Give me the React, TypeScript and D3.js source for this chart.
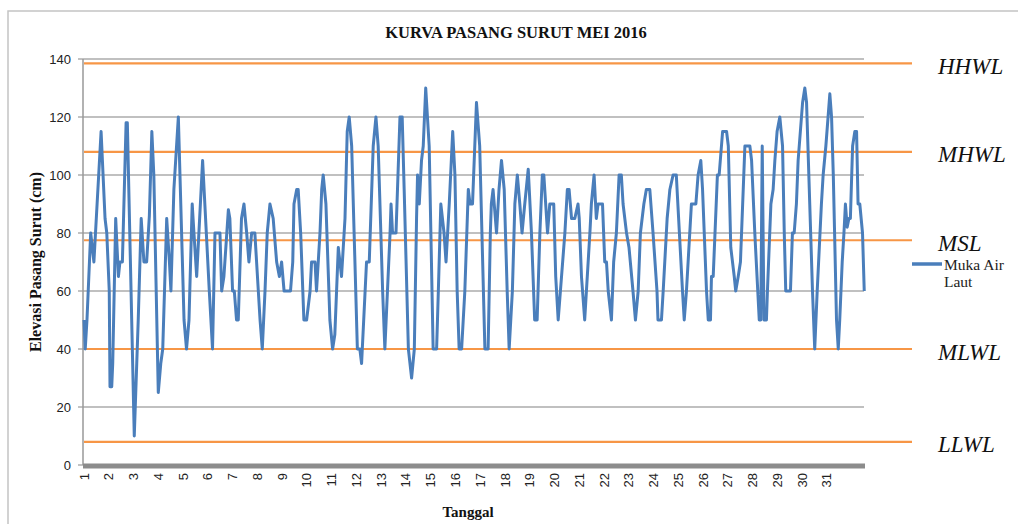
import React from 'react';
import * as d3 from 'd3';

const title = 'KURVA PASANG SURUT MEI 2016';
const yTitle = 'Elevasi Pasang Surut (cm)';
const xTitle = 'Tanggal';
const legendLines = ['Muka Air', 'Laut'];

const dayLabels = ['1', '2', '3', '4', '5', '6', '7', '8', '9', '10', '11', '12', '13', '14', '15', '16',
  '17', '18', '19', '20', '21', '22', '23', '24', '25', '26', '27', '28', '29', '30', '31'];
const yTicks = [0, 20, 40, 60, 80, 100, 120, 140];

const levelNames = ['HHWL', 'MHWL', 'MSL', 'MLWL', 'LLWL'];
const levelValues = [138.5, 108, 77.5, 40, 8];

// position in days since 1 May 00:00
const dayPos = [
  0, 0.05, 0.12, 0.27, 0.40, 0.69, 0.85, 0.92,
  1.02, 1.05, 1.12, 1.16, 1.28, 1.39, 1.45, 1.55, 1.70, 1.75,
  2.03, 2.19, 2.31, 2.42, 2.53, 2.64, 2.74, 2.82,
  3.0, 3.10, 3.18, 3.34, 3.45, 3.51, 3.63, 3.81,
  4.04, 4.14, 4.24, 4.37, 4.44, 4.55, 4.79,
  5.06, 5.19, 5.29, 5.49, 5.56, 5.65, 5.83, 5.89,
  6.00, 6.07, 6.16, 6.23, 6.36, 6.46, 6.57, 6.66, 6.77, 6.90, 6.97,
  7.11, 7.20, 7.31, 7.40, 7.51, 7.64, 7.78, 7.89, 7.98,
  8.08, 8.34, 8.43, 8.48, 8.59, 8.65, 8.75, 8.88, 8.99,
  9.06, 9.13, 9.19, 9.33, 9.39, 9.53, 9.60, 9.66, 9.77, 9.87, 9.93,
  10.04, 10.13, 10.27, 10.40, 10.54, 10.63, 10.71, 10.81,
  11.04, 11.14, 11.21, 11.41, 11.52, 11.68, 11.79, 11.88,
  12.06, 12.15, 12.36, 12.40, 12.46, 12.60, 12.76, 12.85, 12.93,
  13.10, 13.23, 13.34, 13.43, 13.47, 13.54, 13.63, 13.70, 13.80, 13.94,
  14.10, 14.24, 14.31, 14.41, 14.54, 14.62, 14.75, 14.89, 14.98,
  15.07, 15.15, 15.25, 15.38, 15.52, 15.59, 15.69, 15.85, 15.98,
  16.19, 16.32, 16.41, 16.45, 16.52, 16.66, 16.76, 16.86, 16.97,
  17.09, 17.17, 17.30, 17.40, 17.50, 17.60, 17.69, 17.80, 17.94,
  18.07, 18.20, 18.30, 18.41, 18.51, 18.57, 18.72, 18.81, 18.97,
  19.05, 19.15, 19.24, 19.42, 19.52, 19.59, 19.69, 19.82, 19.95,
  20.0, 20.09, 20.22, 20.29, 20.43, 20.49, 20.60, 20.69, 20.76, 20.94,
  21.03, 21.10, 21.17, 21.30, 21.39, 21.50, 21.61, 21.70, 21.77, 21.91,
  22.01, 22.17, 22.27, 22.38, 22.47, 22.61, 22.71, 22.85, 22.98,
  23.14, 23.18, 23.32, 23.39, 23.55, 23.66, 23.79, 23.92,
  24.17, 24.24, 24.33, 24.53, 24.71, 24.80, 24.91, 24.98,
  25.14, 25.21, 25.30, 25.34, 25.41, 25.58, 25.65, 25.79, 25.95,
  26.02, 26.12, 26.26, 26.32, 26.42, 26.51, 26.69, 26.89, 26.96,
  27.09, 27.27, 27.33, 27.39, 27.46, 27.56, 27.60, 27.74, 27.83, 27.90, 27.99,
  28.10, 28.21, 28.28, 28.34, 28.53, 28.61, 28.68, 28.77, 28.84,
  29.02, 29.11, 29.18, 29.42, 29.51, 29.61, 29.78, 29.85, 29.96,
  30.12, 30.19, 30.26, 30.39, 30.46, 30.52, 30.62, 30.69, 30.75, 30.82, 30.89, 30.95,
  31.04, 31.13, 31.20, 31.26, 31.33, 31.44, 31.51,
];

// elevation (cm)
const elevation = [
  50, 40, 50, 80, 70, 115, 85, 80,
  60, 27, 27, 35, 85, 65, 70, 70, 118, 118,
  10, 50, 85, 70, 70, 86, 115, 100,
  25, 35, 40, 85, 70, 60, 95, 120,
  50, 40, 50, 90, 80, 65, 105,
  60, 40, 80, 80, 60, 65, 88, 85,
  60, 60, 50, 50, 85, 90, 80, 70, 80, 80, 70,
  50, 40, 60, 80, 90, 85, 70, 65, 70,
  60, 60, 70, 90, 95, 95, 80, 50, 50,
  55, 60, 70, 70, 60, 80, 95, 100, 90, 65, 50,
  40, 45, 75, 65, 85, 115, 120, 110,
  40, 40, 35, 70, 70, 110, 120, 110,
  60, 40, 80, 90, 80, 80, 120, 120, 95,
  40, 30, 40, 85, 100, 90, 105, 110, 130, 110,
  40, 40, 60, 90, 80, 70, 90, 115, 100,
  60, 40, 40, 60, 95, 90, 90, 125, 110,
  40, 40, 80, 90, 95, 80, 95, 105, 95,
  60, 40, 60, 90, 100, 90, 80, 90, 102,
  80, 50, 50, 80, 100, 100, 80, 90, 90,
  65, 50, 60, 80, 95, 95, 85, 85, 90,
  85, 65, 50, 60, 80, 90, 100, 85, 90, 90,
  70, 70, 60, 50, 70, 80, 100, 100, 90, 80,
  75, 60, 50, 60, 80, 90, 95, 95, 80,
  60, 50, 50, 60, 85, 95, 100, 100,
  60, 50, 60, 90, 90, 100, 105, 95,
  60, 50, 50, 65, 65, 100, 100, 115, 115,
  110, 75, 65, 60, 65, 70, 110, 110, 105,
  80, 50, 50, 110, 50, 50, 60, 90, 95, 105, 115,
  120, 110, 80, 60, 60, 80, 80, 90, 105,
  125, 130, 125, 60, 40, 60, 90, 100, 110,
  128, 120, 100, 50, 40, 50, 70, 80, 90, 82, 85, 85,
  110, 115, 115, 90, 90, 80, 60,
];

const W = 1018;
const H = 524;
const serif = '"Liberation Serif", "Times New Roman", serif';
const sans = '"Liberation Sans", Arial, sans-serif';
const blue = '#4a7ebb';
const orange = '#f79646';

export default function App() {
  const x = d3.scaleLinear().domain([0, 31.5]).range([84, 864]);
  const y = d3.scaleLinear().domain([0, 140]).range([465, 59]);
  const n = Math.min(dayPos.length, elevation.length);
  const pts = d3.range(n).map(i => [dayPos[i], elevation[i]] as [number, number]);
  const line = d3.line<[number, number]>().x(d => x(d[0])).y(d => y(d[1]));

  return (
    <div style={{ position: 'fixed', left: 0, top: 0, background: '#fff' }}>
      <svg width={W} height={H} style={{ display: 'block' }}>
        <rect width={W} height={H} fill="#fff" />
        <path d={`M8,${H} V11 H${W}`} fill="none" stroke="#c4c4c4" strokeWidth={1.5} />

        <text x={516} y={38} textAnchor="middle" fontFamily={serif} fontWeight="bold" fontSize={16.5} fill="#111">{title}</text>

        {yTicks.map(t => (
          <g key={t}>
            {t > 0 && <line x1={83} x2={864} y1={y(t)} y2={y(t)} stroke="#ababab" strokeWidth={1.4} />}
            <line x1={78} x2={83} y1={y(t)} y2={y(t)} stroke="#999" strokeWidth={1.2} />
            <text x={71} y={y(t)} dy="0.35em" textAnchor="end" fontFamily={sans} fontSize={13} fill="#222">{t}</text>
          </g>
        ))}
        <line x1={83} x2={83} y1={y(140)} y2={y(0)} stroke="#999" strokeWidth={1.5} />

        {levelValues.map((v, i) => (
          <line key={levelNames[i]} x1={84} x2={912} y1={y(v)} y2={y(v)} stroke={orange} strokeWidth={2.2} />
        ))}

        <path d={line(pts) || ''} fill="none" stroke={blue} strokeWidth={3} strokeLinejoin="round" />

        <rect x={83} y={463.5} width={782} height={5} fill="#8c8c8c" />
        {dayLabels.map((lab, i) => (
          <text key={lab} transform={`translate(${x(i)},473) rotate(-90)`} dy="0.35em" textAnchor="end"
            fontFamily={sans} fontSize={13} fill="#222">{lab}</text>
        ))}

        <text x={468} y={517} textAnchor="middle" fontFamily={serif} fontWeight="bold" fontSize={15} fill="#111">{xTitle}</text>
        <text transform="translate(41,262) rotate(-90)" textAnchor="middle" fontFamily={serif} fontWeight="bold" fontSize={16} fill="#111">{yTitle}</text>

        {levelNames.map((name, i) => (
          <text key={name} x={938} y={y(levelValues[i]) + 10.5} fontFamily={serif} fontStyle="italic" fontSize={23} fill="#111">{name}</text>
        ))}

        <line x1={912} x2={942} y1={264} y2={264} stroke={blue} strokeWidth={3.5} />
        {legendLines.map((s, i) => (
          <text key={s} x={944} y={270 + i * 17} fontFamily={serif} fontSize={15.5} fill="#222">{s}</text>
        ))}
      </svg>
    </div>
  );
}
